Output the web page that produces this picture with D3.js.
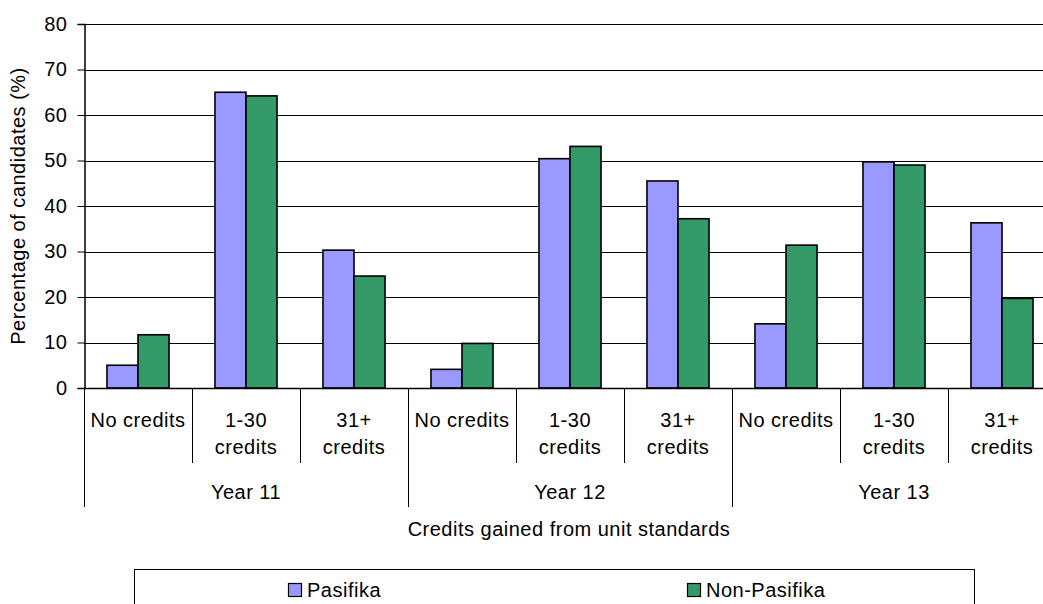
<!DOCTYPE html>
<html><head><meta charset="utf-8">
<script src="https://cdn.jsdelivr.net/npm/d3@7"></script>
<style>
body{margin:0;background:#fff;overflow:hidden}
text{font-family:"Liberation Sans",Arial,sans-serif;fill:#000;letter-spacing:0.5px}
</style></head>
<body><svg id="c" width="1043" height="604"></svg>
<script>
const years = ["Year 11","Year 12","Year 13"];
const creditBands = [["No credits"],["1-30","credits"],["31+","credits"]];
const seriesNames = ["Pasifika","Non-Pasifika"];
const pasifika =    [5.0, 65.0, 30.3, 4.1, 50.4, 45.5, 14.1, 49.7, 36.3];
const nonPasifika = [11.7, 64.2, 24.6, 9.8, 53.1, 37.2, 31.4, 49.0, 19.7];
const yTicks = [0,10,20,30,40,50,60,70,80];
const colors = ["#9999FF","#339966"];
const yTitle = "Percentage of candidates (%)";
const xTitle = "Credits gained from unit standards";

(function(){
const svg = d3.select("#c");
const pL = 84, pR = 1056, pT = 24, pB = 388;
const cats = d3.range(years.length*creditBands.length);
const x = d3.scaleBand().domain(cats).range([pL,pR]).padding(0);
const x1 = d3.scaleBand().domain(seriesNames).range([0,x.bandwidth()]).paddingInner(0).paddingOuter(0.74);
const y = d3.scaleLinear().domain([0,80]).range([pB,pT]);
const fs = 20;

// gridlines
svg.append("g").selectAll("line").data(yTicks.filter(d=>d>0)).join("line")
  .attr("x1",pL).attr("x2",pR).attr("y1",d=>Math.round(y(d))+0.5).attr("y2",d=>Math.round(y(d))+0.5)
  .attr("stroke","#000").attr("stroke-width",1);

// y axis
const ya = svg.append("g").attr("transform",`translate(${pL+0.5},0)`)
  .call(d3.axisLeft(y).tickValues(yTicks).tickSize(7).tickPadding(10).tickFormat(d3.format("d")));
ya.select(".domain").attr("stroke","#000").attr("stroke-width",1.5);
ya.selectAll(".tick line").attr("stroke","#000");
ya.selectAll(".tick text").style("font-size",fs+"px").style("font-family","'Liberation Sans',Arial,sans-serif").attr("fill","#000");

// bars
const data = cats.map(i=>({i, vals:[pasifika[i],nonPasifika[i]]}));
const g = svg.append("g");
data.forEach(d=>{
  g.append("g").selectAll("rect").data(d.vals.map((v,k)=>({v,k}))).join("rect")
    .attr("x",e=>x(d.i)+x1(seriesNames[e.k]))
    .attr("width",x1.bandwidth())
    .attr("y",e=>y(e.v)).attr("height",e=>y(0)-y(e.v))
    .attr("fill",e=>colors[e.k]).attr("stroke","#000").attr("stroke-width",1.6);
});

// x axis line
svg.append("line").attr("x1",pL).attr("x2",pR).attr("y1",pB+0.5).attr("y2",pB+0.5)
  .attr("stroke","#000").attr("stroke-width",1.5);

// category separators
cats.forEach(i=>{
  if(i%3!==0){
    svg.append("line").attr("x1",Math.round(x(i))+0.5).attr("x2",Math.round(x(i))+0.5)
      .attr("y1",pB).attr("y2",463).attr("stroke","#000").attr("stroke-width",1);
  }
});
[0,3,6,9].forEach(i=>{
  const xx = i<9 ? x(i) : pR;
  svg.append("line").attr("x1",Math.round(xx)+0.5).attr("x2",Math.round(xx)+0.5)
    .attr("y1",pB).attr("y2",507).attr("stroke","#000").attr("stroke-width",1);
});

// category labels
cats.forEach(i=>{
  const lines = creditBands[i%3];
  const t = svg.append("text").attr("text-anchor","middle").style("font-size",fs+"px")
    .attr("x",x(i)+x.bandwidth()/2);
  lines.forEach((l,k)=>t.append("tspan").attr("x",x(i)+x.bandwidth()/2).attr("y",427+k*27).text(l));
});
// year labels
years.forEach((yr,j)=>{
  svg.append("text").attr("text-anchor","middle").style("font-size",fs+"px")
    .attr("x",x(j*3)+x.bandwidth()*1.5).attr("y",499).text(yr);
});
// titles
svg.append("text").attr("text-anchor","middle").style("font-size",fs+"px")
  .attr("x",569).attr("y",536).text(xTitle);
svg.append("text").attr("text-anchor","middle").style("font-size",fs+"px")
  .attr("transform","translate(25,206) rotate(-90)").text(yTitle);

// legend
svg.append("rect").attr("x",134.5).attr("y",569.5).attr("width",840).attr("height",60)
  .attr("fill","none").attr("stroke","#000").attr("stroke-width",1);
const legX = [288,687];
seriesNames.forEach((s,k)=>{
  svg.append("rect").attr("x",legX[k]+0.5).attr("y",583.5).attr("width",13).attr("height",13)
    .attr("fill",colors[k]).attr("stroke","#000").attr("stroke-width",1.2);
  svg.append("text").style("font-size",fs+"px").attr("x",legX[k]+19).attr("y",597).text(s);
});
})();
</script></body></html>
